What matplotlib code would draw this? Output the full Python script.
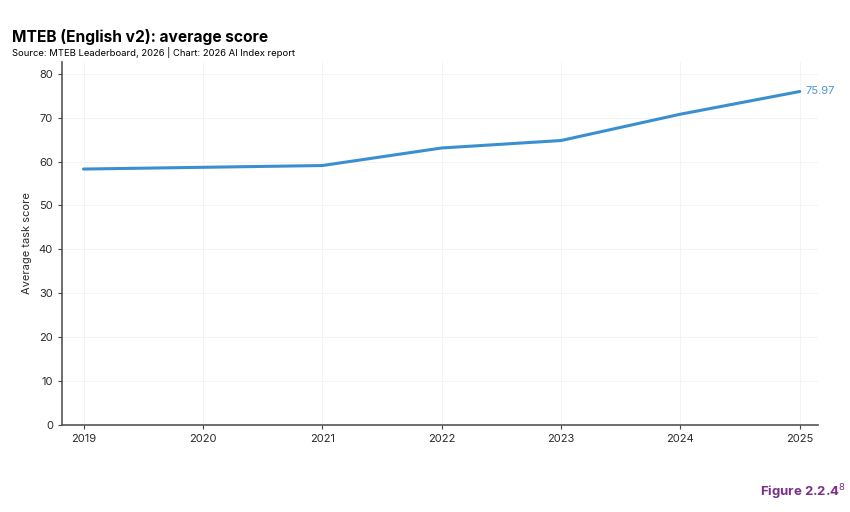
import matplotlib
matplotlib.use("Agg")
import matplotlib.pyplot as plt

years = [2019, 2020, 2021, 2022, 2023, 2024, 2025]
scores = [58.3, 58.7, 59.1, 63.1, 64.8, 70.8, 75.97]
yticks = [0, 10, 20, 30, 40, 50, 60, 70, 80]

plt.rcParams["font.family"] = ["Inter", "DejaVu Sans"]
LINE = "#3a8fd0"

fig = plt.figure(figsize=(8.5, 5.12), dpi=100)
ax = fig.add_axes([0.073, 0.170, 0.889, 0.709])
ax.plot(years, scores, color=LINE, lw=2.2, solid_capstyle="round")
ax.text(years[-1] + 0.05, scores[-1], f"{scores[-1]:.2f}", color="#4a96d4",
        fontsize=8, va="center", ha="left")

ax.set_xlim(2018.82, 2025.15)
ax.set_ylim(0, 82.7)
ax.set_xticks(years)
ax.set_yticks(yticks)
ax.tick_params(labelsize=8, length=3, color="#444444", width=0.8,
               labelcolor="#2a2a2a")
ax.set_ylabel("Average task score", fontsize=8, labelpad=5, color="#2a2a2a")
ax.grid(True, color="#f3f3f3", lw=0.6)
for s in ["top", "right"]:
    ax.spines[s].set_visible(False)
for s in ["left", "bottom"]:
    ax.spines[s].set_color("#555555")
    ax.spines[s].set_linewidth(1.2)

fig.text(0.014, 0.917, "MTEB (English v2): average score", fontsize=11.2,
         fontweight="bold", va="baseline")
fig.text(0.014, 0.891, "Source: MTEB Leaderboard, 2026 | Chart: 2026 AI Index report",
         fontsize=6.8, va="baseline")
fig.text(0.995, 0.030, "Figure 2.2.4$^{8}$", fontsize=9.5, fontweight="bold",
         color="#7b2f8a", ha="right", va="baseline")

fig.savefig("out.png", dpi=100)
